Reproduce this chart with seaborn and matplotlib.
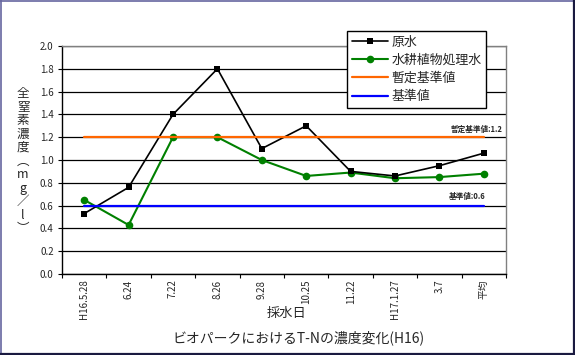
import matplotlib
matplotlib.use("Agg")
import matplotlib.pyplot as plt
import seaborn as sns
import pandas as pd
from matplotlib.lines import Line2D

categories = ["H16.5.28", "6.24", "7.22", "8.26", "9.28", "10.25", "11.22", "H17.1.27", "3.7", "平均"]
raw_water = [0.53, 0.76, 1.40, 1.80, 1.10, 1.30, 0.90, 0.86, 0.95, 1.06]
treated_water = [0.65, 0.43, 1.20, 1.20, 1.00, 0.86, 0.89, 0.84, 0.85, 0.88]
provisional_std = [1.2] * 10
standard = [0.6] * 10
series_names = ["原水", "水耕植物処理水", "暫定基準値", "基準値"]
y_ticks = [0.0, 0.2, 0.4, 0.6, 0.8, 1.0, 1.2, 1.4, 1.6, 1.8, 2.0]

sns.set_theme(style="white")
plt.rcParams['font.family'] = ['Noto Sans CJK JP', 'DejaVu Sans']

rows = []
for name, vals in zip(series_names, [raw_water, treated_water, provisional_std, standard]):
    for i, v in enumerate(vals):
        rows.append({"x": i, "value": v, "series": name})
df = pd.DataFrame(rows)

fig = plt.figure(figsize=(5.75, 3.55), dpi=100)
ax = fig.add_axes([62/575, 1-274/355, 444/575, 228/355])

styles = {
    "原水": dict(color="black", marker="s", markersize=4.2, lw=1.2, z=4),
    "水耕植物処理水": dict(color="#008000", marker="o", markersize=5.5, lw=1.5, z=3),
    "暫定基準値": dict(color="#FF6600", marker=None, markersize=0, lw=1.6, z=5),
    "基準値": dict(color="#0000FF", marker=None, markersize=0, lw=1.6, z=5),
}
for name in series_names:
    s = styles[name]
    sub = df[df["series"] == name]
    sns.lineplot(data=sub, x="x", y="value", ax=ax, color=s["color"],
                 marker=s["marker"], markersize=s["markersize"], lw=s["lw"],
                 markeredgewidth=0, zorder=s["z"], label=name, legend=False,
                 estimator=None, sort=False)

ax.set_xlim(-0.5, len(categories) - 0.5)
ax.set_ylim(0, 2.0)
ax.set_yticks(y_ticks)
ax.set_yticklabels([f"{t:.1f}" for t in y_ticks], fontsize=7)
ax.yaxis.grid(True, color="black", lw=0.9)
ax.set_axisbelow(True)

# category boundaries as major ticks, labels at centers
ax.set_xticks([i - 0.5 for i in range(len(categories) + 1)])
ax.set_xticklabels([])
ax.set_xticks(range(len(categories)), minor=True)
ax.set_xticklabels(categories, minor=True, rotation=90, fontsize=7, va="top")
ax.tick_params(axis="x", which="major", direction="out", length=3, width=0.8, color="black", bottom=True)
ax.tick_params(axis="x", which="minor", length=0, pad=4)
ax.tick_params(axis="y", direction="out", length=3, width=0.8, color="black", left=True, pad=3)

for sp in ["left", "bottom"]:
    ax.spines[sp].set_color("black")
    ax.spines[sp].set_linewidth(1.0)
for sp in ["top", "right"]:
    ax.spines[sp].set_color("#808080")
    ax.spines[sp].set_linewidth(1.0)

ax.set_xlabel("")
ax.set_ylabel("")
fig.text(287/575, 1-313/355, "採水日", fontsize=9.5, ha="center", va="center")

ax.text(9.43, 1.27, "暫定基準値:1.2", fontsize=5.5, ha="right", va="center", fontweight="bold")
ax.text(9.03, 0.678, "基準値:0.6", fontsize=5.5, ha="right", va="center", fontweight="bold")

ylabel_chars = ["全", "窒", "素", "濃", "度", "︵", "m", "g", "／", "l", "︶"]
fig.text(23/575, 1-161/355, "\n".join(ylabel_chars), fontsize=9, ha="center", va="center",
         linespacing=1.05)

fig.text(298/575, 1-338/355, "ビオパークにおけるT-Nの濃度変化(H16)", fontsize=10, ha="center", va="center")

handles = [Line2D([], [], color=styles[n]["color"], marker=styles[n]["marker"],
                  markersize=styles[n]["markersize"], lw=styles[n]["lw"], markeredgewidth=0)
           for n in series_names]
leg = fig.legend(handles, series_names, loc="upper left", bbox_to_anchor=(347/575, 1-31/355),
                 fontsize=9.3, frameon=True, fancybox=False, edgecolor="black", framealpha=1,
                 borderpad=0.35, labelspacing=0.4, handlelength=2.8, handletextpad=0.3,
                 borderaxespad=0)
leg.get_frame().set_linewidth(1.0)

# window-like border
fig.add_artist(Line2D([0.5/575, 0.5/575], [0, 1], color="#6666A0", lw=1.2, transform=fig.transFigure))
fig.add_artist(Line2D([0, 1], [1-0.5/355, 1-0.5/355], color="#6666A0", lw=1.2, transform=fig.transFigure))
fig.add_artist(Line2D([1-1.5/575, 1-1.5/575], [0, 1], color="#1A1A40", lw=1.6, transform=fig.transFigure))
fig.add_artist(Line2D([0, 1], [1.5/355, 1.5/355], color="#1A1A40", lw=1.6, transform=fig.transFigure))

fig.savefig("out.png", dpi=100)
